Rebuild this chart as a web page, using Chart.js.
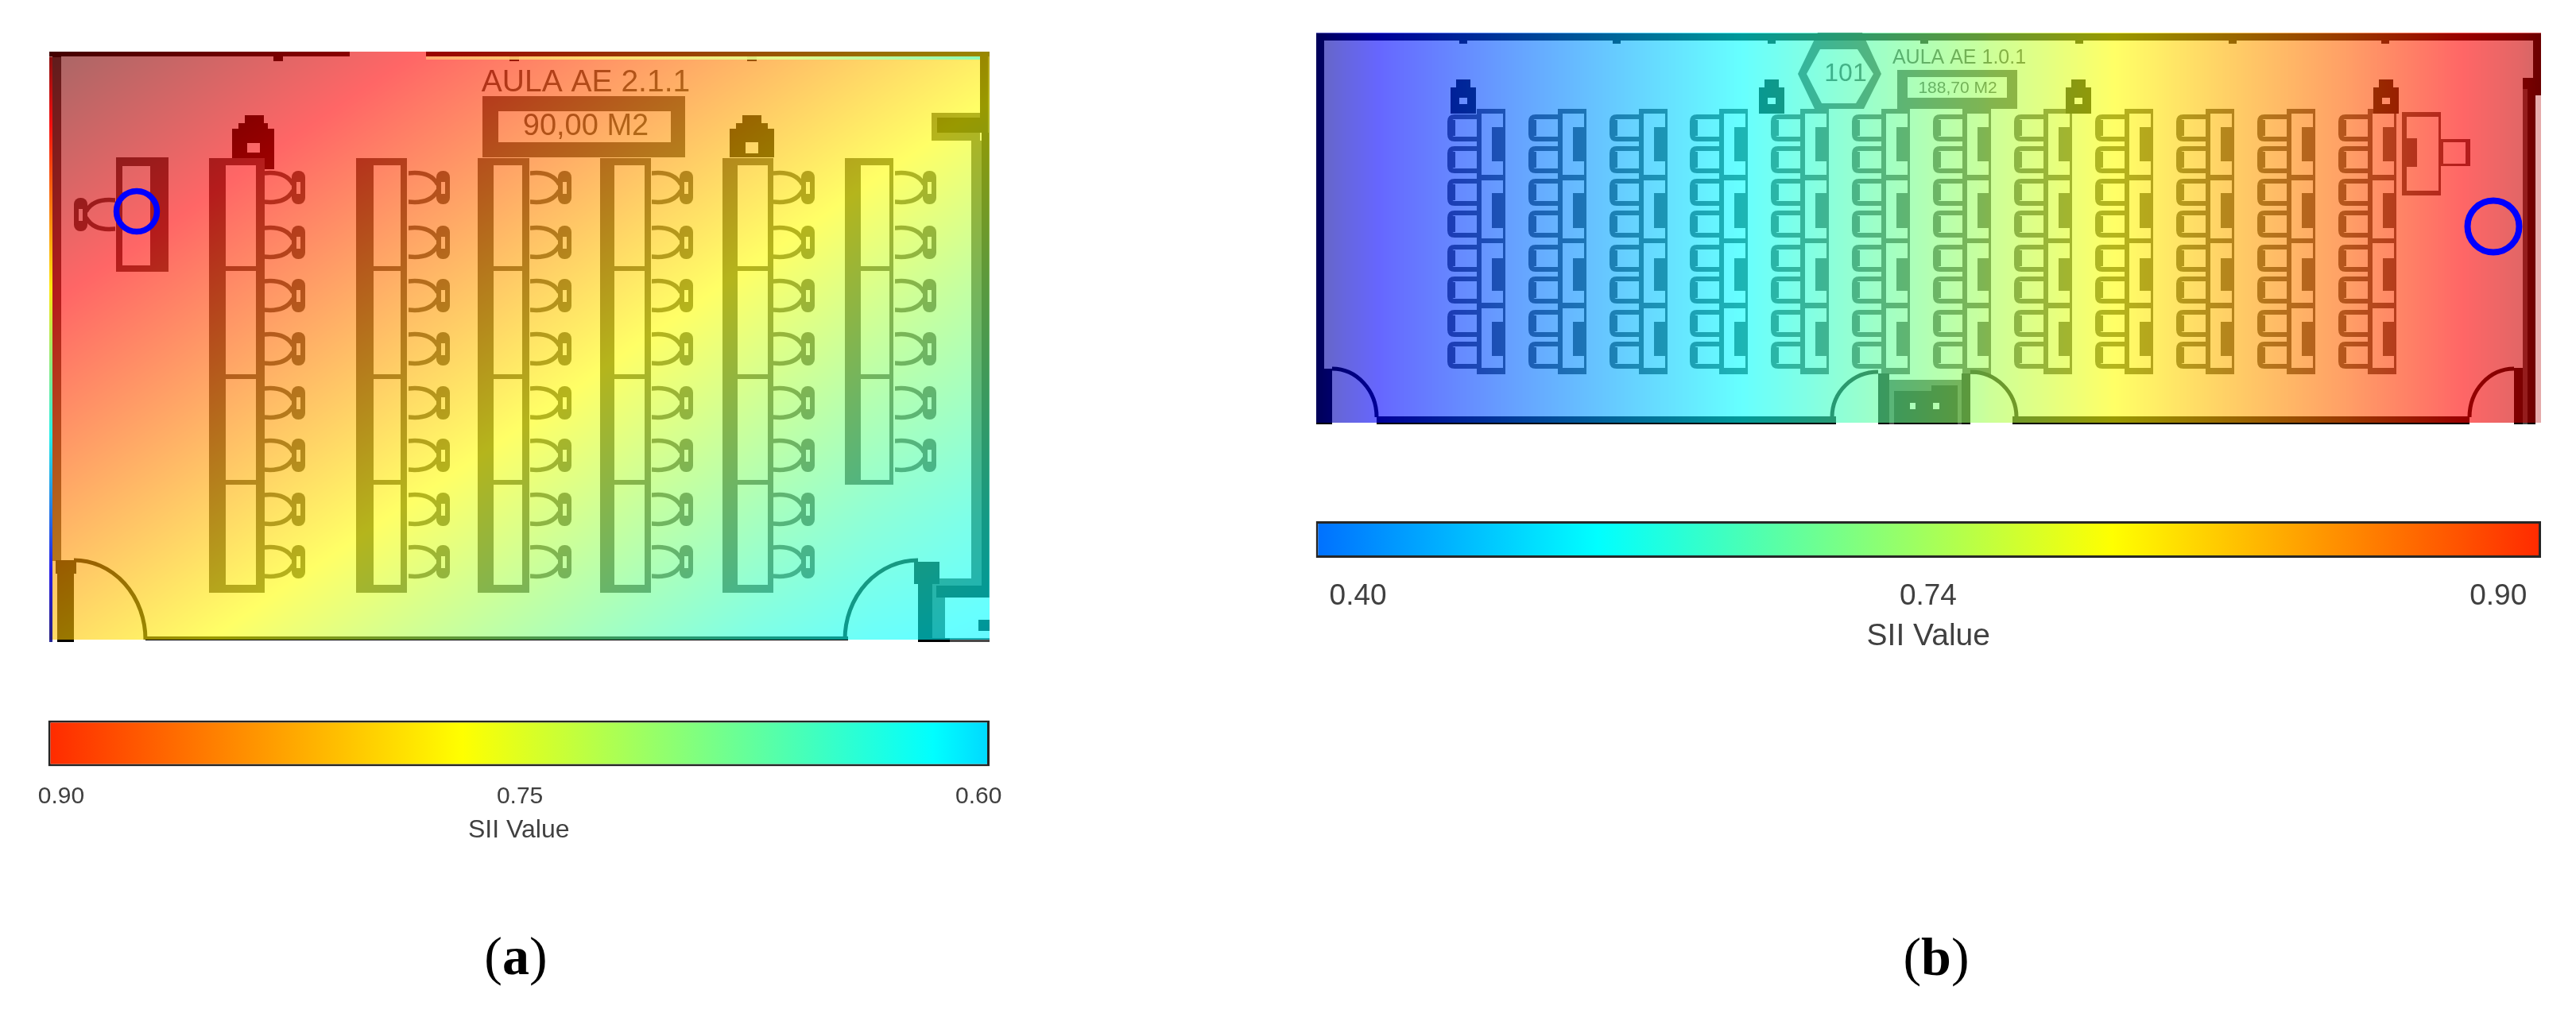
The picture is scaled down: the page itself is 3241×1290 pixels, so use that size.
<!DOCTYPE html>
<html>
<head>
<meta charset="utf-8">
<script src="https://cdn.jsdelivr.net/npm/chart.js@4/dist/chart.umd.min.js"></script>
<style>
html,body{margin:0;padding:0;background:#fff;width:3241px;height:1290px;overflow:hidden}
canvas{position:absolute}
.cap{position:absolute;font:68px "Liberation Serif",serif;color:#000;transform:translate(-50%,-50%);line-height:1}
</style>
</head>
<body>
<canvas id="planA" style="left:62px;top:65px" width="1183" height="743"></canvas>
<canvas id="planB" style="left:1656px;top:41px" width="1541" height="493"></canvas>
<canvas id="barA" style="left:0;top:880px" width="1300" height="200"></canvas>
<canvas id="barB" style="left:1600px;top:640px" width="1640" height="200"></canvas>
<div class="cap" style="left:649px;top:1203px">(<b>a</b>)</div>
<div class="cap" style="left:2436px;top:1204px">(<b>b</b>)</div>
<script>
// ---------- SII readings (room a: 2-D grid, room b: one profile across the room) ----------
const gridXA = [62,210,358,506,654,801,949,1097,1245];
const gridYA = [65,213,361,509,657,805];
const siiA0 = [1.004,.977,.949,.922,.895,.867,.840,.812,.785];
const siiA1 = [.964,.937,.909,.882,.855,.827,.800,.772,.745];
const siiA2 = [.924,.897,.869,.842,.815,.787,.760,.732,.705];
const siiA3 = [.885,.858,.830,.803,.776,.748,.721,.693,.672];
const siiA4 = [.845,.818,.790,.763,.736,.708,.681,.656,.636];
const siiA5 = [.805,.778,.750,.723,.696,.668,.641,.622,.612];
const gridXB = [1656,1690,1740,1900,2050,2191,2350,2500,2660,2800,2950,3100,3170,3197];
const gridYB = [41,532];
const siiB = [.15,.208,.276,.379,.471,.557,.654,.743,.788,.829,.872,.923,.947,.963];

// ---------- colour scale anchors ----------
const siiAnchorsA = [.60,.75,.90];
const jetAnchorsA = [.345,.595,.845];
const siiAnchorsB = [.40,.74,.90];
const jetAnchorsB = [.238,.535,.833];
const tickLabelsA = ['0.90','0.75','0.60'];
const tickLabelsB = ['0.40','0.74','0.90'];
const barStopsA = [[0,'#ff2a00'],[.44,'#ffff00'],[.94,'#00ffff'],[1,'#00d8ff']];
const barStopsB = [[0,'#0070ff'],[.23,'#00ffff'],[.65,'#ffff00'],[1,'#ff2a00']];
const axisTitle = 'SII Value';

// ---------- floor plan a (plan units) ----------
const deskOuterA = [[263,333],[448,512],[601,666],[755,819],[909,973],[1063,1124]];
const deskInnerA = [[284,322],[470,504],[621,657],[773,811],[928,966],[1083,1119]];
const deskSpansA = [[208,335],[341,471],[477,604],[610,736]];
const chairRowsA = [236,305,372,439,507,573,641,707];
const chairColsA = [358,540,693,846,999,1152];
const blackA = [[62,65,440,71],[536,65,1245,71],[66,65,77,72],[1233,65,1243,148],[1179,148,1243,167],[1235,167,1244,752],[1178,737,1244,752],
  [72,708,93,808],[70,705,96,722],[183,801,1067,806],[1155,707,1173,808],[1150,707,1182,735],[1155,803,1195,808],[1231,780,1245,794],
  [344,71,356,77],[641,71,653,77],[940,71,952,77],
  [292,162,345,213],[300,155,337,162],[308,145,332,155],[918,162,974,198],[926,155,966,162],[934,145,958,155]];
const greyA = [[66,72,77,706],[1172,142,1233,177],[1222,177,1235,736],[1182,728,1235,737],[1173,735,1189,805],[1195,803,1245,808],[1243,65,1245,752],
  [146,198,212,342],[607,121,862,198]];
const whiteA = [[154,209,189,334],[627,140,844,179],[311,180,327,192],[938,179,954,193]];
const doorsA = [[93,805,90,100,-90,0],[1155,805,92,100,180,270]];
const textsA = [['AULA AE 2.1.1',737,104,39],['90,00 M2',737,160,38]];
const topStripeA = [[0,'#ffb070'],[.3,'#ffe070'],[.65,'#e0ff90'],[1,'#80ffc0']];
const sensorA = [{x:172,y:266}];
const teacherChairA = [{x:119,y:270}];

// ---------- floor plan b (plan units) ----------
const deskLeftB = [1858,1960,2062,2163,2265,2367,2469,2571,2673,2775,2877,2979];
const deskSpansB = [[143,220],[227,300],[306,381],[388,463]];
const deskBarsB = [[160,203],[243,287],[325,366],[405,448]];
const chairRowsB = [161,201,242,282,325,365,407,447];
const pillarsB = [1841,2229,2615,3002];
const wallTicksB = [1841,2034,2229,2421,2616,2809,3001];
const blackB = [[1656,42,3197,51],[1656,42,1666,534],[1656,464,1676,534],[1732,524,2310,534],[2532,524,3107,534],
  [3187,42,3197,120],[3174,98,3187,112],[3180,112,3190,534],[3163,463,3174,534],[2363,470,2377,534],[2468,470,2479,534]];
const greyB = [[3174,112,3180,534],[2387,88,2538,137],[2377,478,2468,534],[3022,141,3071,246],[3071,175,3108,209]];
const whiteB = [[2400,97,2525,123],[3028,147,3068,240],[3074,179,3102,206]];
const doorsB = [[1676,525,56,61,-90,0],[3163,525,56,61,180,270],[2363,525,58,57,180,270],[2479,525,58,57,-90,0]];
const doorCoreB = [[2383,492,2463,534],[2430,485,2463,492]];
const doorCoreHolesB = [[2403,507,2410,515],[2432,507,2440,515]];
const hexOuterB = [[2287,41],[2343,41],[2367,93],[2345,137],[2283,137],[2262,93]];
const hexInnerB = [[2290,62],[2337,62],[2357,93],[2335,130],[2292,130],[2273,93]];
const textsB = [['AULA AE 1.0.1',2465,73,25],['188,70 M2',2463,111,21],['101',2322,93,32]];
const sensorB = [{x:3137,y:285}];

const WALL = '#000', GREY = '#484848', TEXT = '#3c3c3c';

function jet(t){
  const c = v => Math.max(0,Math.min(1,v))*255;
  return [c(1.5-Math.abs(4*t-3)),c(1.5-Math.abs(4*t-2)),c(1.5-Math.abs(4*t-1))];
}
function toJet(v,sa,ja){
  const i = v < sa[1] ? 0 : 1;
  return ja[i]+(v-sa[i])*(ja[i+1]-ja[i])/(sa[i+1]-sa[i]);
}
function locate(a,v){
  let i=0; while(i<a.length-2 && v>a[i+1]) i++;
  return [i,Math.max(0,Math.min(1,(v-a[i])/(a[i+1]-a[i])))];
}
function paintHeat(chart,h){
  const {x:sx,y:sy}=chart.scales, ctx=chart.ctx;
  const px0=Math.round(sx.getPixelForValue(h.xs[0])),px1=Math.round(sx.getPixelForValue(h.xs[h.xs.length-1]));
  const py0=Math.round(sy.getPixelForValue(h.ys[0])),py1=Math.round(sy.getPixelForValue(h.ys[h.ys.length-1]));
  const W=px1-px0,H=py1-py0,off=document.createElement('canvas');
  off.width=W;off.height=H;
  const oc=off.getContext('2d'),img=oc.createImageData(W,H);
  for(let j=0;j<H;j++){
    const [r,fy]=locate(h.ys,sy.getValueForPixel(py0+j+.5));
    for(let i=0;i<W;i++){
      const [c,fx]=locate(h.xs,sx.getValueForPixel(px0+i+.5));
      const v=(h.rows[r][c]*(1-fx)+h.rows[r][c+1]*fx)*(1-fy)+(h.rows[r+1][c]*(1-fx)+h.rows[r+1][c+1]*fx)*fy;
      const rgb=jet(toJet(v,h.sa,h.ja)),k=(j*W+i)*4;
      img.data[k]=rgb[0];img.data[k+1]=rgb[1];img.data[k+2]=rgb[2];img.data[k+3]=153;
    }
  }
  oc.putImageData(img,0,0);
  ctx.drawImage(off,px0,py0);
}
function rectFill(chart,list,color){
  const {x:sx,y:sy}=chart.scales,ctx=chart.ctx;
  ctx.fillStyle=color;
  list.forEach(r=>{
    const a=sx.getPixelForValue(r[0]),b=sy.getPixelForValue(r[1]);
    ctx.fillRect(a,b,sx.getPixelForValue(r[2])-a,sy.getPixelForValue(r[3])-b);
  });
}
function polyFill(chart,pts,color){
  const {x:sx,y:sy}=chart.scales,ctx=chart.ctx;
  ctx.fillStyle=color;ctx.beginPath();
  pts.forEach((p,i)=>{const X=sx.getPixelForValue(p[0]),Y=sy.getPixelForValue(p[1]);i?ctx.lineTo(X,Y):ctx.moveTo(X,Y);});
  ctx.closePath();ctx.fill();
}
const planPlugin={
  id:'plan',
  beforeDatasetsDraw(chart,args,o){
    const {x:sx,y:sy}=chart.scales,ctx=chart.ctx;
    ctx.save();
    (o.polys||[]).forEach(p=>polyFill(chart,p[0],p[1]));
    rectFill(chart,o.grey,GREY);
    rectFill(chart,o.black,WALL);
    rectFill(chart,o.white,'#fff');
    rectFill(chart,o.greyTop||[],GREY);
    rectFill(chart,o.blackTop||[],WALL);
    rectFill(chart,o.whiteTop||[],'#fff');
    ctx.strokeStyle=WALL;ctx.lineWidth=5;
    o.doors.forEach(d=>{
      ctx.beginPath();
      ctx.ellipse(sx.getPixelForValue(d[0]),sy.getPixelForValue(d[1]),
        Math.abs(sx.getPixelForValue(d[0]+d[2])-sx.getPixelForValue(d[0])),
        Math.abs(sy.getPixelForValue(d[1]+d[3])-sy.getPixelForValue(d[1])),
        0,d[4]*Math.PI/180,d[5]*Math.PI/180);
      ctx.stroke();
    });
    if(o.dot){ctx.fillStyle=WALL;ctx.beginPath();ctx.arc(sx.getPixelForValue(o.dot[0]),sy.getPixelForValue(o.dot[1]),o.dot[2],0,7);ctx.fill();}
    ctx.fillStyle=TEXT;ctx.textAlign='center';ctx.textBaseline='middle';
    o.texts.forEach(t=>{
      ctx.font=t[3]+'px "Liberation Sans"';
      ctx.fillText(t[0],sx.getPixelForValue(t[1]),sy.getPixelForValue(t[2]));
    });
    ctx.restore();
  },
  beforeDatasetDraw(chart,args,o){
    if(chart.data.datasets[args.index].label!=='Sensor') return;
    paintHeat(chart,o.heat);
    if(o.after) o.after(chart);
  }
};
function chairA(mirror){
  const c=document.createElement('canvas');c.width=52;c.height=44;
  const g=c.getContext('2d');
  if(mirror){g.translate(52,0);g.scale(-1,1);}
  g.strokeStyle=GREY;g.lineWidth=5.5;g.lineCap='round';
  g.beginPath();g.moveTo(0,4);g.bezierCurveTo(18,2,30,7,36,17);g.stroke();
  g.beginPath();g.moveTo(0,40);g.bezierCurveTo(18,42,30,37,36,27);g.stroke();
  g.fillStyle=GREY;
  g.beginPath();g.roundRect(35,1,17,42,8);g.fill();
  g.clearRect(41,15,5,15);
  return c;
}
function chairB(){
  const c=document.createElement('canvas');c.width=38;c.height=34;
  const g=c.getContext('2d');
  g.strokeStyle=GREY;g.lineWidth=6;
  g.beginPath();g.moveTo(38,3);g.lineTo(10,3);g.quadraticCurveTo(4,3,4,9);g.lineTo(4,25);g.quadraticCurveTo(4,31,10,31);g.lineTo(38,31);g.stroke();
  g.lineWidth=4;g.beginPath();g.moveTo(9,7);g.lineTo(9,27);g.stroke();
  return c;
}
function planScales(xmin,xmax,ymin,ymax){
  return {x:{type:'linear',display:false,min:xmin,max:xmax},y:{type:'linear',display:false,reverse:true,min:ymin,max:ymax}};
}
const baseOpts={responsive:false,animation:false,events:[],layout:{padding:0,autoPadding:false}};
function pointSet(label,data,style,order){
  return {label,data,pointStyle:style,pointRadius:10,showLine:false,order,clip:false,backgroundColor:'transparent',borderColor:'transparent'};
}

// ---- room a ----
const greyTopA=[],whiteTopA=[];
deskOuterA.forEach((o,i)=>{
  const spans=i===5?deskSpansA.slice(0,3):deskSpansA;
  greyTopA.push([o[0],199,o[1],spans[spans.length-1][1]+(i===5?6:10)]);
  spans.forEach(s=>whiteTopA.push([deskInnerA[i][0],s[0],deskInnerA[i][1],s[1]]));
});
const chairPtsA=[];
chairColsA.forEach((x,i)=>(i===5?chairRowsA.slice(0,6):chairRowsA).forEach(y=>chairPtsA.push({x,y})));
new Chart(document.getElementById('planA'),{
  type:'scatter',
  plugins:[planPlugin],
  data:{datasets:[
    Object.assign(pointSet('Sensor',sensorA,'circle',0),{pointRadius:25.5,pointBorderWidth:7.5,pointBorderColor:'#0000ff',pointBackgroundColor:'transparent'}),
    pointSet('Seats',chairPtsA,chairA(false),1),
    pointSet('Teacher',teacherChairA,chairA(true),2)
  ]},
  options:Object.assign({},baseOpts,{
    scales:planScales(62,1245,65,808),
    plugins:{legend:{display:false},tooltip:{enabled:false},plan:{
      grey:greyA,black:blackA,white:whiteA,doors:doorsA,texts:textsA,
      greyTop:greyTopA,whiteTop:whiteTopA.concat(whiteA),blackTop:[],
      dot:[1238,787,7],
      heat:{xs:gridXA,ys:gridYA,rows:[siiA0,siiA1,siiA2,siiA3,siiA4,siiA5],sa:siiAnchorsA,ja:jetAnchorsA},
      after(chart){
        const c=chart.ctx,sy=chart.scales.y,sx=chart.scales.x;
        const g=c.createLinearGradient(0,sy.getPixelForValue(65),0,sy.getPixelForValue(808));
        [[0,'#800000'],[.124,'#ff0000'],[.4,'#ffff00'],[.65,'#00ffff'],[.88,'#0000ff'],[1,'#000080']].forEach(s=>g.addColorStop(s[0],s[1]));
        c.save();c.fillStyle=g;c.globalAlpha=.85;
        c.fillRect(sx.getPixelForValue(62),sy.getPixelForValue(72),4,sy.getPixelForValue(808)-sy.getPixelForValue(72));
        const x0=sx.getPixelForValue(536),x1=sx.getPixelForValue(1233);
        const t=c.createLinearGradient(x0,0,x1,0);
        topStripeA.forEach(s=>t.addColorStop(s[0],s[1]));
        c.globalAlpha=.9;c.fillStyle=t;
        c.fillRect(x0,sy.getPixelForValue(71),x1-x0,4);
        c.restore();
      }
    }}
  })
});

// ---- room b ----
const greyTopB=[],whiteTopB=[],barTopB=[];
deskLeftB.forEach(l=>{
  greyTopB.push([l,137,l+36,471]);
  deskSpansB.forEach(s=>whiteTopB.push([l+6,s[0],l+33,s[1]]));
  deskBarsB.forEach(s=>barTopB.push([l+19,s[0],l+36,s[1]]));
});
const pillarBlackB=[],pillarHoleB=[];
pillarsB.forEach(c=>{
  pillarBlackB.push([c-16,110,c+16,143],[c-9,100,c+9,110]);
  pillarHoleB.push([c-5,123,c+5,131]);
});
wallTicksB.forEach(c=>pillarBlackB.push([c-5,50,c+5,55]));
const chairPtsB=[];
deskLeftB.forEach(l=>chairRowsB.forEach(y=>chairPtsB.push({x:l-19,y})));
new Chart(document.getElementById('planB'),{
  type:'scatter',
  plugins:[planPlugin],
  data:{datasets:[
    Object.assign(pointSet('Sensor',sensorB,'circle',0),{pointRadius:32.5,pointBorderWidth:8,pointBorderColor:'#0000ff',pointBackgroundColor:'transparent'}),
    pointSet('Seats',chairPtsB,chairB(),1)
  ]},
  options:Object.assign({},baseOpts,{
    scales:planScales(1656,3197,41,534),
    plugins:{legend:{display:false},tooltip:{enabled:false},plan:{
      polys:[[hexOuterB,GREY],[hexInnerB,'#fff']],
      grey:greyB.concat(greyTopB),black:blackB.concat(pillarBlackB),
      white:whiteB.concat(whiteTopB,pillarHoleB),
      greyTop:barTopB.concat([[3028,174,3041,210],[3102,175,3108,209]]),
      blackTop:doorCoreB,whiteTop:doorCoreHolesB,
      doors:doorsB,texts:textsB,
      heat:{xs:gridXB,ys:gridYB,rows:[siiB,siiB],sa:siiAnchorsB,ja:jetAnchorsB},
      after(chart){
        const c=chart.ctx,sy=chart.scales.y,sx=chart.scales.x;
        c.save();c.fillStyle='rgba(255,255,255,.45)';
        c.fillRect(sx.getPixelForValue(3190),sy.getPixelForValue(120),7,sy.getPixelForValue(534)-sy.getPixelForValue(120));
        c.restore();
      }
    }}
  })
});

// ---- colour bars ----
function colourBar(id,labels,stops,xmin,xmax,pad,axisH,tickPad,tickSize,titleSize){
  new Chart(document.getElementById(id),{
    type:'bar',
    data:{labels:['SII'],datasets:[{
      data:[[xmin,xmax]],
      barPercentage:1,categoryPercentage:1,
      borderWidth:3,borderColor:'#262626',borderSkipped:false,inflateAmount:0,
      backgroundColor(ctx){
        const a=ctx.chart.chartArea;
        if(!a) return stops[0][1];
        const g=ctx.chart.ctx.createLinearGradient(a.left,0,a.right,0);
        stops.forEach(s=>g.addColorStop(s[0],s[1]));
        return g;
      }
    }]},
    options:Object.assign({},baseOpts,{
      indexAxis:'y',
      layout:{padding:pad,autoPadding:false},
      plugins:{legend:{display:false},tooltip:{enabled:false}},
      scales:{
        y:{type:'category',display:false},
        x:{type:'linear',min:xmin,max:xmax,position:'bottom',
          grid:{display:false},border:{display:false},
          afterBuildTicks(s){s.ticks=labels.map((l,i)=>({value:i}));},
          afterFit(s){s.height=axisH;},
          ticks:{autoSkip:false,maxRotation:0,padding:tickPad,color:'#404040',
            font:{family:'"Liberation Sans"',size:tickSize},
            callback:v=>labels[v]},
          title:{display:true,text:axisTitle,color:'#404040',padding:0,
            font:{family:'"Liberation Sans"',size:titleSize}}
        }
      }
    })
  });
}
colourBar('barA',tickLabelsA,barStopsA,-.0286,2.024,{left:60.5,right:55,top:26.5,bottom:16},99.4,12,30,32);
colourBar('barB',tickLabelsB,barStopsB,-.074,2.075,{left:55.5,right:43,top:16,bottom:15},123,19,37,39);
</script>
</body>
</html>
